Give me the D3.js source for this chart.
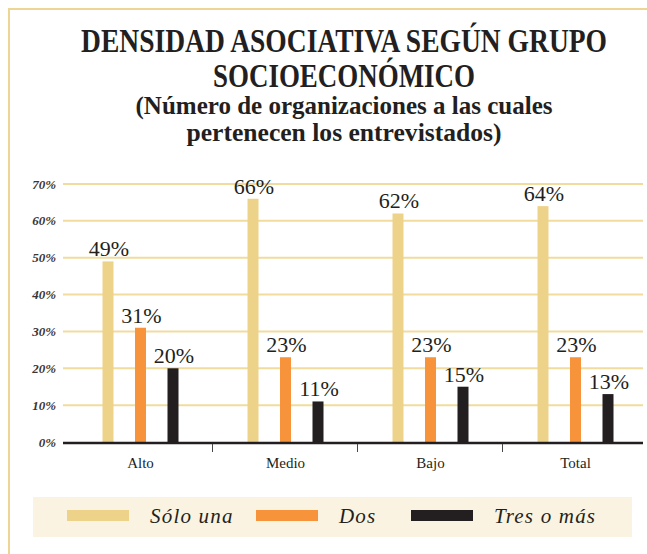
<!DOCTYPE html>
<html>
<head>
<meta charset="utf-8">
<script src="https://cdn.jsdelivr.net/npm/d3@7"></script>
<style>
  body { margin: 0; background: #fff; }
  svg { display: block; }
  svg text { font-family: "Liberation Serif", "DejaVu Serif", "Times New Roman", serif; }
</style>
</head>
<body>
<svg id="chart"></svg>
<script>
const width = 647,
      height = 554;

const groups = ['Alto', 'Medio', 'Bajo', 'Total'];
const series = ['Sólo una', 'Dos', 'Tres o más'];
const soloUna = [49, 66, 62, 64];
const dos = [31, 23, 23, 23];
const tresOMas = [20, 11, 15, 13];
const yTicks = [0, 10, 20, 30, 40, 50, 60, 70];
const titleLines = ['DENSIDAD ASOCIATIVA SEGÚN GRUPO', 'SOCIOECONÓMICO'];
const subtitleLines = ['(Número de organizaciones a las cuales', 'pertenecen los entrevistados)'];

const colors = d3.scaleOrdinal()
                 .domain(series)
                 .range(['#edd38a', '#f7943b', '#231f20']);

const data = groups.map((g, i) => ({
  group: g,
  values: [soloUna[i], dos[i], tresOMas[i]].map((v, j) => ({ key: series[j], value: v }))
}));

const svg = d3.select('#chart')
    .attr('width', width)
    .attr('height', height);

// frame
svg.append('path')
    .attr('d', `M9,${height} V9 H${width}`)
    .attr('fill', 'none')
    .attr('stroke', '#eed594')
    .attr('stroke-width', 2);

// title
const titleSpec = [
  { text: titleLines[0], y: 52, size: 33, len: 526 },
  { text: titleLines[1], y: 87, size: 33, len: 262 },
  { text: subtitleLines[0], y: 114, size: 25, len: 417 },
  { text: subtitleLines[1], y: 141, size: 25, len: 315 }
];
svg.append('g')
  .selectAll('text')
  .data(titleSpec)
  .enter()
  .append('text')
    .attr('x', 344)
    .attr('y', (d) => d.y)
    .attr('text-anchor', 'middle')
    .attr('font-weight', 'bold')
    .attr('font-size', (d) => d.size)
    .attr('textLength', (d) => d.len)
    .attr('lengthAdjust', 'spacingAndGlyphs')
    .attr('fill', '#231f20')
    .text((d) => d.text);

// scales
const x = d3.scaleBand()
            .domain(groups)
            .range([68, 648]);

const xSub = d3.scalePoint()
               .domain(series)
               .range([-32.5, 32.5]);

const y = d3.scaleLinear()
            .domain([0, 70])
            .range([442, 184]);

// grid
svg.append('g')
  .selectAll('line')
  .data(yTicks.slice(1))
  .enter()
  .append('line')
    .attr('x1', 63)
    .attr('x2', 643)
    .attr('y1', (d) => y(d))
    .attr('y2', (d) => y(d))
    .attr('stroke', '#f1dc9e')
    .attr('stroke-width', 2);

// y labels
svg.append('g')
  .selectAll('text')
  .data(yTicks)
  .enter()
  .append('text')
    .attr('x', 56)
    .attr('y', (d) => y(d) + 4.5)
    .attr('text-anchor', 'end')
    .attr('font-style', 'italic')
    .attr('font-weight', 'bold')
    .attr('font-size', 13)
    .attr('fill', '#3a3536')
    .text((d) => d + '%');

// bars
const groupSel = svg.append('g')
  .selectAll('g')
  .data(data)
  .enter()
  .append('g')
    .attr('transform', (d) => `translate(${x(d.group) + x.bandwidth() / 2},0)`);

groupSel.selectAll('rect')
  .data((d) => d.values)
  .enter()
  .append('rect')
    .attr('x', (d) => xSub(d.key) - 5.5)
    .attr('width', 11)
    .attr('y', (d) => y(d.value))
    .attr('height', (d) => y(0) - y(d.value))
    .attr('fill', (d) => colors(d.key));

groupSel.selectAll('text')
  .data((d) => d.values)
  .enter()
  .append('text')
    .attr('x', (d) => xSub(d.key) + 1)
    .attr('y', (d) => y(d.value) - 5)
    .attr('text-anchor', 'middle')
    .attr('font-size', 22)
    .attr('fill', '#231f20')
    .text((d) => d.value + '%');

// x axis
svg.append('line')
    .attr('x1', 63)
    .attr('x2', 643)
    .attr('y1', y(0) + 1)
    .attr('y2', y(0) + 1)
    .attr('stroke', '#231f20')
    .attr('stroke-width', 2.5);

svg.append('g')
  .selectAll('line')
  .data(groups.slice(1))
  .enter()
  .append('line')
    .attr('x1', (d) => x(d) - 0.5)
    .attr('x2', (d) => x(d) - 0.5)
    .attr('y1', y(0) + 2)
    .attr('y2', y(0) + 10)
    .attr('stroke', '#4a4546')
    .attr('stroke-width', 1);

svg.append('g')
  .selectAll('text')
  .data(groups)
  .enter()
  .append('text')
    .attr('x', (d) => x(d) + x.bandwidth() / 2)
    .attr('y', 468)
    .attr('text-anchor', 'middle')
    .attr('font-size', 15)
    .attr('fill', '#231f20')
    .text((d) => d);

// legend
const legend = svg.append('g');

legend.append('rect')
    .attr('x', 33)
    .attr('y', 497)
    .attr('width', 599)
    .attr('height', 40)
    .attr('fill', '#faf3e1');

const legendX = [67, 256, 411];
const legendItem = legend.selectAll('g')
  .data(series)
  .enter()
  .append('g')
    .attr('transform', (d, i) => `translate(${legendX[i]},0)`);

legendItem.append('rect')
    .attr('x', 0)
    .attr('y', 510)
    .attr('width', 62)
    .attr('height', 11)
    .attr('fill', (d) => colors(d));

legendItem.append('text')
    .attr('x', 83)
    .attr('y', 523)
    .attr('font-style', 'italic')
    .attr('font-size', 21)
    .attr('letter-spacing', 1.2)
    .attr('fill', '#231f20')
    .text((d) => d);
</script>
</body>
</html>
